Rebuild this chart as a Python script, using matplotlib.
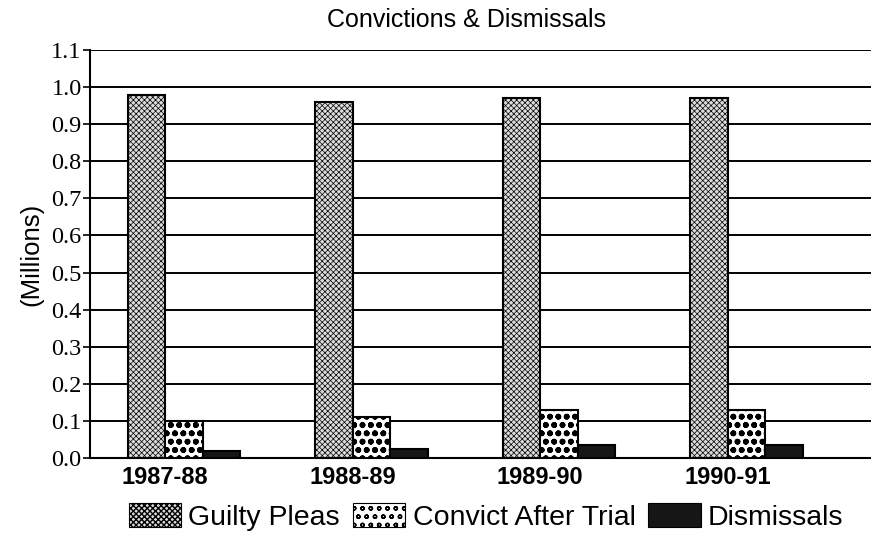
import matplotlib
matplotlib.use("Agg")
import matplotlib.pyplot as plt
import numpy as np
from matplotlib.patches import Patch

# data (millions)
years = ["1987-88", "1988-89", "1989-90", "1990-91"]
guilty_pleas = [0.98, 0.96, 0.97, 0.97]
convict_after_trial = [0.10, 0.11, 0.13, 0.13]
dismissals = [0.02, 0.025, 0.035, 0.035]
yticks = [0.0, 0.1, 0.2, 0.3, 0.4, 0.5, 0.6, 0.7, 0.8, 0.9, 1.0, 1.1]

fig = plt.figure(figsize=(8.71, 5.41), dpi=100)
ax = fig.add_axes([90 / 871, 1 - 458 / 541, 1 - 90 / 871, (458 - 50) / 541])

grp = np.arange(len(years)) * 5.0
w = 1.0
# (style, hatch line width) per series
styles = [
    (dict(facecolor="#dcdcdc", hatch="xxxxxx", label="Guilty Pleas"), 0.5),
    (dict(facecolor="white", hatch="oo", label="Convict After Trial"), 1.8),
    (dict(facecolor="#161616", hatch="", label="Dismissals"), 1.0),
]
series = [guilty_pleas, convict_after_trial, dismissals]
for k, (vals, (st, hlw)) in enumerate(zip(series, styles)):
    with plt.rc_context({'hatch.linewidth': hlw}):
        ax.bar(grp + 1.5 + k * w, vals, width=w, edgecolor="black",
               linewidth=1.5, zorder=3, **st)

ax.set_xlim(0, 781 / 37.5)
ax.set_ylim(0, 1.1)
ax.set_yticks(yticks)
ax.set_yticklabels(["%.1f" % v for v in yticks], family="Liberation Serif",
                   fontsize=17.5)
ax.yaxis.grid(True, color="black", linewidth=1.4, zorder=0)
ax.tick_params(axis="y", length=5, width=1.2, pad=1)
ax.set_xticks(grp + 2.0)
ax.set_xticklabels(years, family="Liberation Sans", fontweight="bold",
                   fontsize=17)
ax.tick_params(axis="x", length=0, pad=6)

for s in ["top", "right"]:
    ax.spines[s].set_visible(False)
ax.spines["left"].set_linewidth(1.5)
ax.spines["bottom"].set_linewidth(1.5)

ax.set_ylabel("(Millions)", family="Liberation Sans", fontsize=18.5, labelpad=6)
fig.text(466 / 871, 1 - 20 / 541, "Convictions & Dismissals", ha="center",
         va="center", family="Liberation Sans", fontsize=18)

handles = []
for st, hlw in styles:
    with plt.rc_context({'hatch.linewidth': hlw}):
        handles.append(Patch(edgecolor="black", linewidth=0.8, **st))
fig.legend(handles=handles, loc="center", bbox_to_anchor=(486 / 871, 1 - 517 / 541),
           ncol=3, frameon=False, handlelength=1.85, handleheight=0.9,
           handletextpad=0.25, columnspacing=0.45,
           prop=dict(family="Liberation Sans", size=20.5))

fig.savefig("out.png", dpi=100)
